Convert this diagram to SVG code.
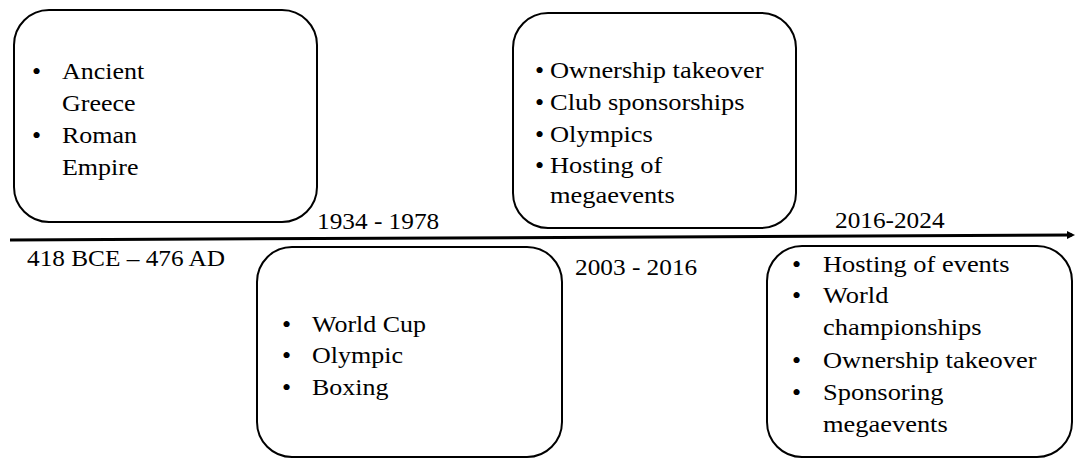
<svg xmlns="http://www.w3.org/2000/svg" width="1078" height="459" viewBox="0 0 1078 459">
<style>
.box{fill:#fff;stroke:#000;stroke-width:2}
text{font-family:"Liberation Serif","Times New Roman",serif;font-size:23px;fill:#000}
.b{font-size:26px}
</style>
<defs>
<marker id="ah" markerWidth="8" markerHeight="8" refX="5" refY="4" orient="auto" markerUnits="userSpaceOnUse">
<path d="M0,0 L8,4 L0,8 z" fill="#000"/>
</marker>
</defs>
<rect width="1078" height="459" fill="#fff"/>
<g id="connectors">
<line x1="10" y1="240" x2="1072" y2="235" stroke="#000" stroke-width="3" marker-end="url(#ah)"/>
</g>
<g id="labels">
<text transform="translate(27 266) scale(1.1 1)">418 BCE – 476 AD</text>
<text transform="translate(317 229) scale(1.1 1)">1934 - 1978</text>
<text transform="translate(575 275) scale(1.1 1)">2003 - 2016</text>
<text transform="translate(835 228) scale(1.1 1)">2016-2024</text>
</g>
<g id="node1">
<rect class="box" x="14" y="10" width="303" height="212" rx="35"/>
<text class="b" x="32" y="80">•</text>
<text transform="translate(62 79) scale(1.13 1)">Ancient</text>
<text transform="translate(62 111) scale(1.13 1)">Greece</text>
<text class="b" x="32" y="144">•</text>
<text transform="translate(62 143) scale(1.13 1)">Roman</text>
<text transform="translate(62 175) scale(1.13 1)">Empire</text>
</g>
<g id="node2">
<rect class="box" x="513" y="13" width="283" height="215" rx="35"/>
<text class="b" x="535" y="79">•</text>
<text transform="translate(550 78) scale(1.15 1)">Ownership takeover</text>
<text class="b" x="535" y="111">•</text>
<text transform="translate(550 110) scale(1.15 1)">Club sponsorships</text>
<text class="b" x="535" y="143">•</text>
<text transform="translate(550 142) scale(1.15 1)">Olympics</text>
<text class="b" x="535" y="174">•</text>
<text transform="translate(550 173) scale(1.15 1)">Hosting of</text>
<text transform="translate(550 203) scale(1.15 1)">megaevents</text>
</g>
<g id="node3">
<rect class="box" x="257" y="247" width="305" height="210" rx="35"/>
<text class="b" x="282" y="333">•</text>
<text transform="translate(312 332) scale(1.13 1)">World Cup</text>
<text class="b" x="282" y="364">•</text>
<text transform="translate(312 363) scale(1.13 1)">Olympic</text>
<text class="b" x="282" y="396">•</text>
<text transform="translate(312 395) scale(1.13 1)">Boxing</text>
</g>
<g id="node4">
<rect class="box" x="767" y="246" width="305" height="211" rx="35"/>
<text class="b" x="792" y="273">•</text>
<text transform="translate(823 272) scale(1.15 1)">Hosting of events</text>
<text class="b" x="792" y="304">•</text>
<text transform="translate(823 303) scale(1.15 1)">World</text>
<text transform="translate(823 335) scale(1.15 1)">championships</text>
<text class="b" x="792" y="369">•</text>
<text transform="translate(823 368) scale(1.15 1)">Ownership takeover</text>
<text class="b" x="792" y="401">•</text>
<text transform="translate(823 400) scale(1.15 1)">Sponsoring</text>
<text transform="translate(823 432) scale(1.15 1)">megaevents</text>
</g>
</svg>
